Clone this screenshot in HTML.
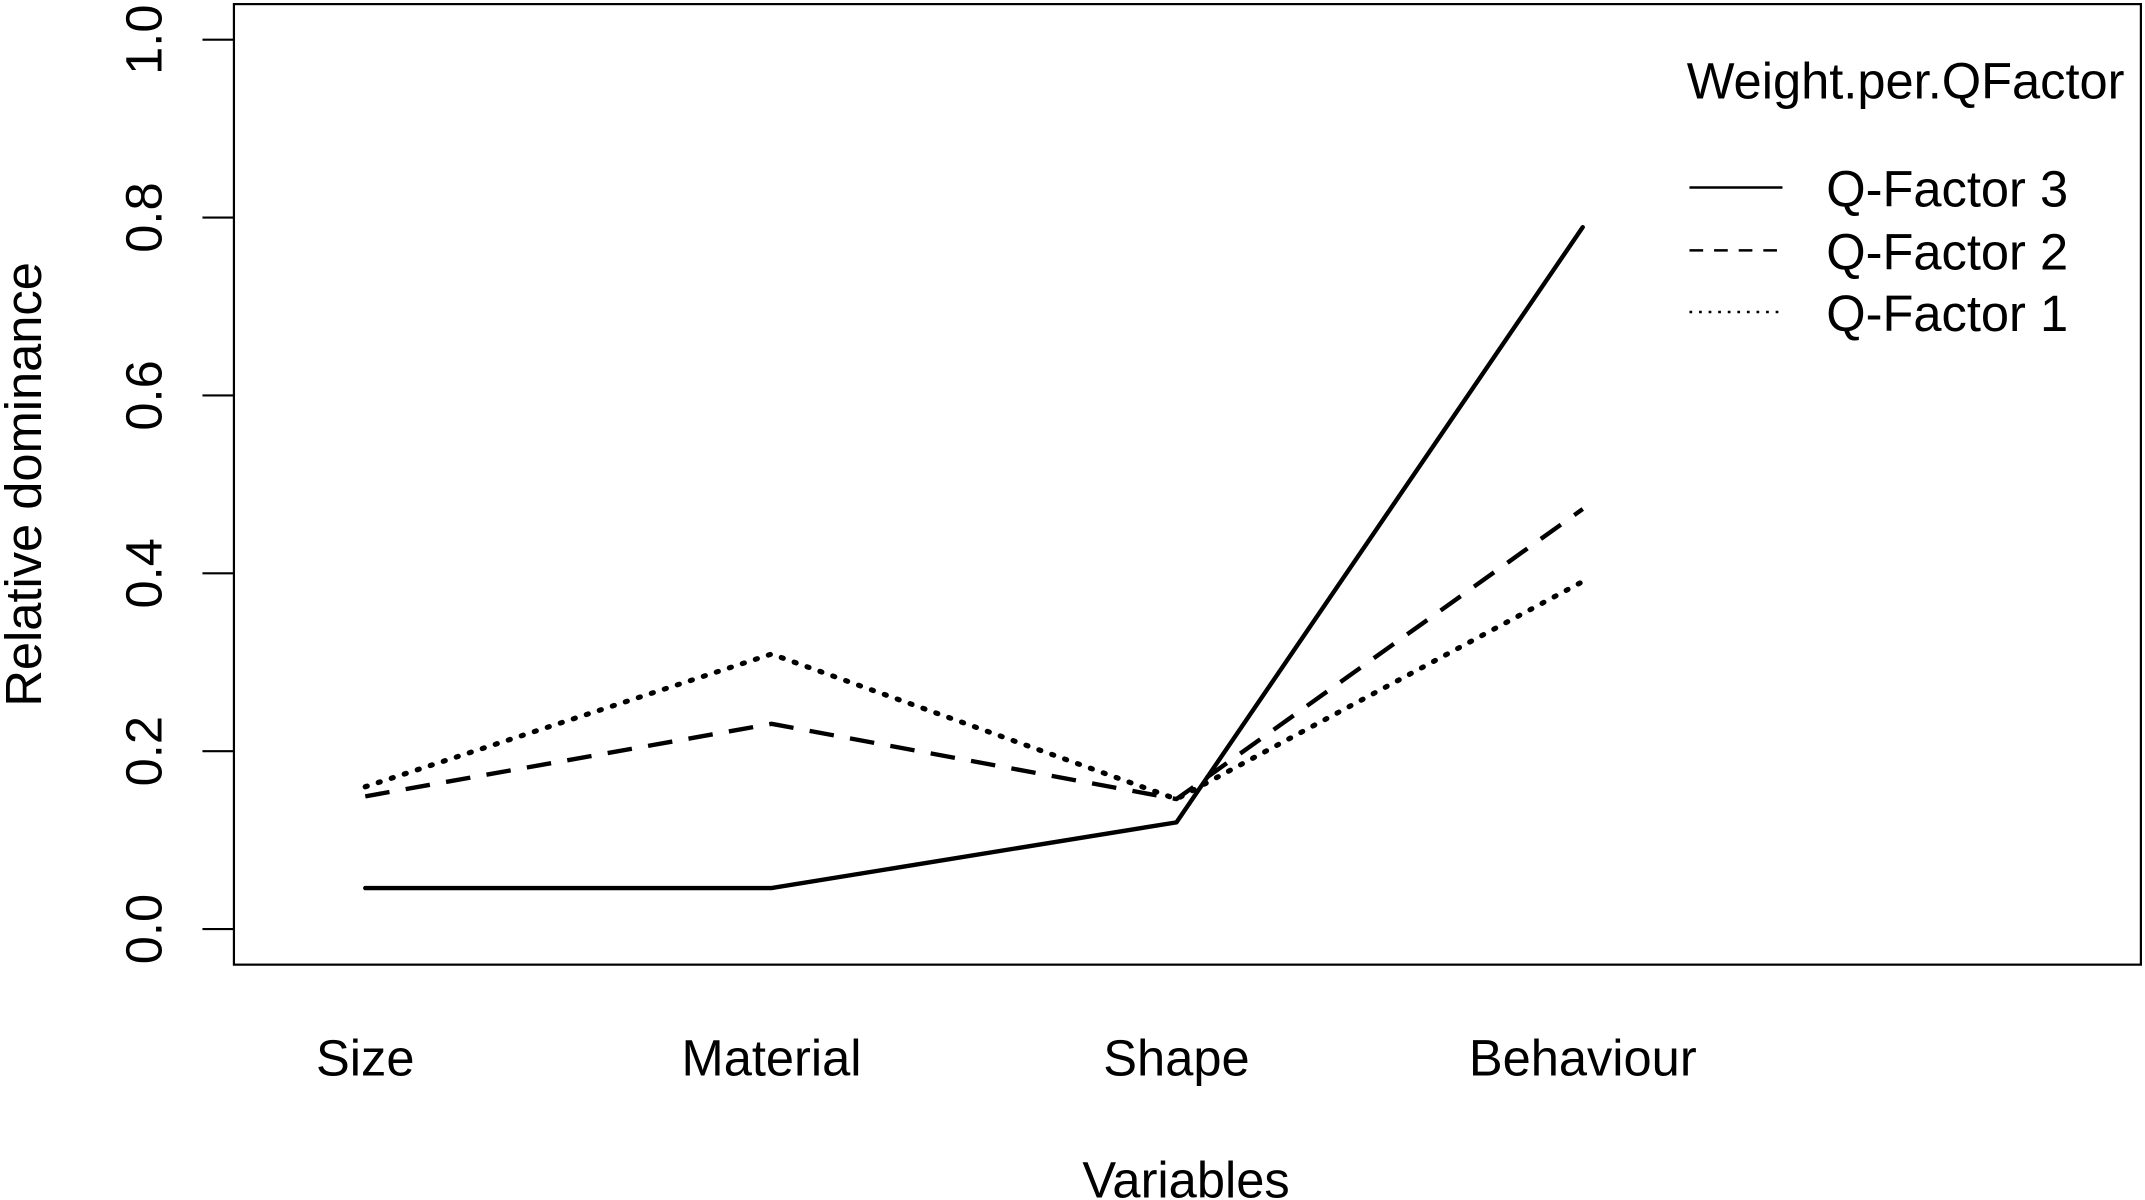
<!DOCTYPE html>
<html><head><meta charset="utf-8"><style>html,body{margin:0;padding:0;background:#fff}svg{display:block}</style></head>
<body>
<svg width="2145" height="1200" viewBox="0 0 1568 877" preserveAspectRatio="none" xmlns="http://www.w3.org/2000/svg" font-family="Liberation Sans, Arial, sans-serif">
<rect x="171" y="3" width="1394" height="702" fill="none" stroke="#000" stroke-width="1.6"/>
<g stroke="#000" stroke-width="1.6">
<line x1="148" y1="679" x2="171" y2="679"/>
<line x1="148" y1="549" x2="171" y2="549"/>
<line x1="148" y1="419" x2="171" y2="419"/>
<line x1="148" y1="289" x2="171" y2="289"/>
<line x1="148" y1="159" x2="171" y2="159"/>
<line x1="148" y1="29" x2="171" y2="29"/>
</g>
<g font-size="37" text-anchor="middle" fill="#000">
<text transform="translate(118,679) rotate(-90)">0.0</text>
<text transform="translate(118,549) rotate(-90)">0.2</text>
<text transform="translate(118,419) rotate(-90)">0.4</text>
<text transform="translate(118,289) rotate(-90)">0.6</text>
<text transform="translate(118,159) rotate(-90)">0.8</text>
<text transform="translate(118,29) rotate(-90)">1.0</text>
<text transform="translate(30,354) rotate(-90)">Relative dominance</text>
<text x="267" y="786">Size</text>
<text x="564" y="786">Material</text>
<text x="860" y="786">Shape</text>
<text x="1157" y="786">Behaviour</text>
<text x="867" y="875">Variables</text>
</g>
<g fill="none" stroke="#000" stroke-width="3.2" stroke-linecap="round" stroke-linejoin="round">
<polyline points="267,649 564,649 860,601 1157,166"/>
<polyline points="267,582 564,529 860,584 1157,372" stroke-dasharray="18,12" stroke-linecap="butt"/>
<polyline points="267,575 564,478 860,584 1157,425" stroke-dasharray="1.5,8.5" stroke-width="3.8"/>
</g>
<g stroke="#000" stroke-width="1.8">
<line x1="1235" y1="137" x2="1303" y2="137"/>
<line x1="1235" y1="183" x2="1303" y2="183" stroke-dasharray="10,8"/>
<line x1="1235" y1="228" x2="1303" y2="228" stroke-dasharray="2,5"/>
</g>
<g font-size="37" fill="#000">
<text x="1233" y="72">Weight.per.QFactor</text>
<text x="1335" y="151">Q-Factor 3</text>
<text x="1335" y="197">Q-Factor 2</text>
<text x="1335" y="242">Q-Factor 1</text>
</g>
</svg>
</body></html>
